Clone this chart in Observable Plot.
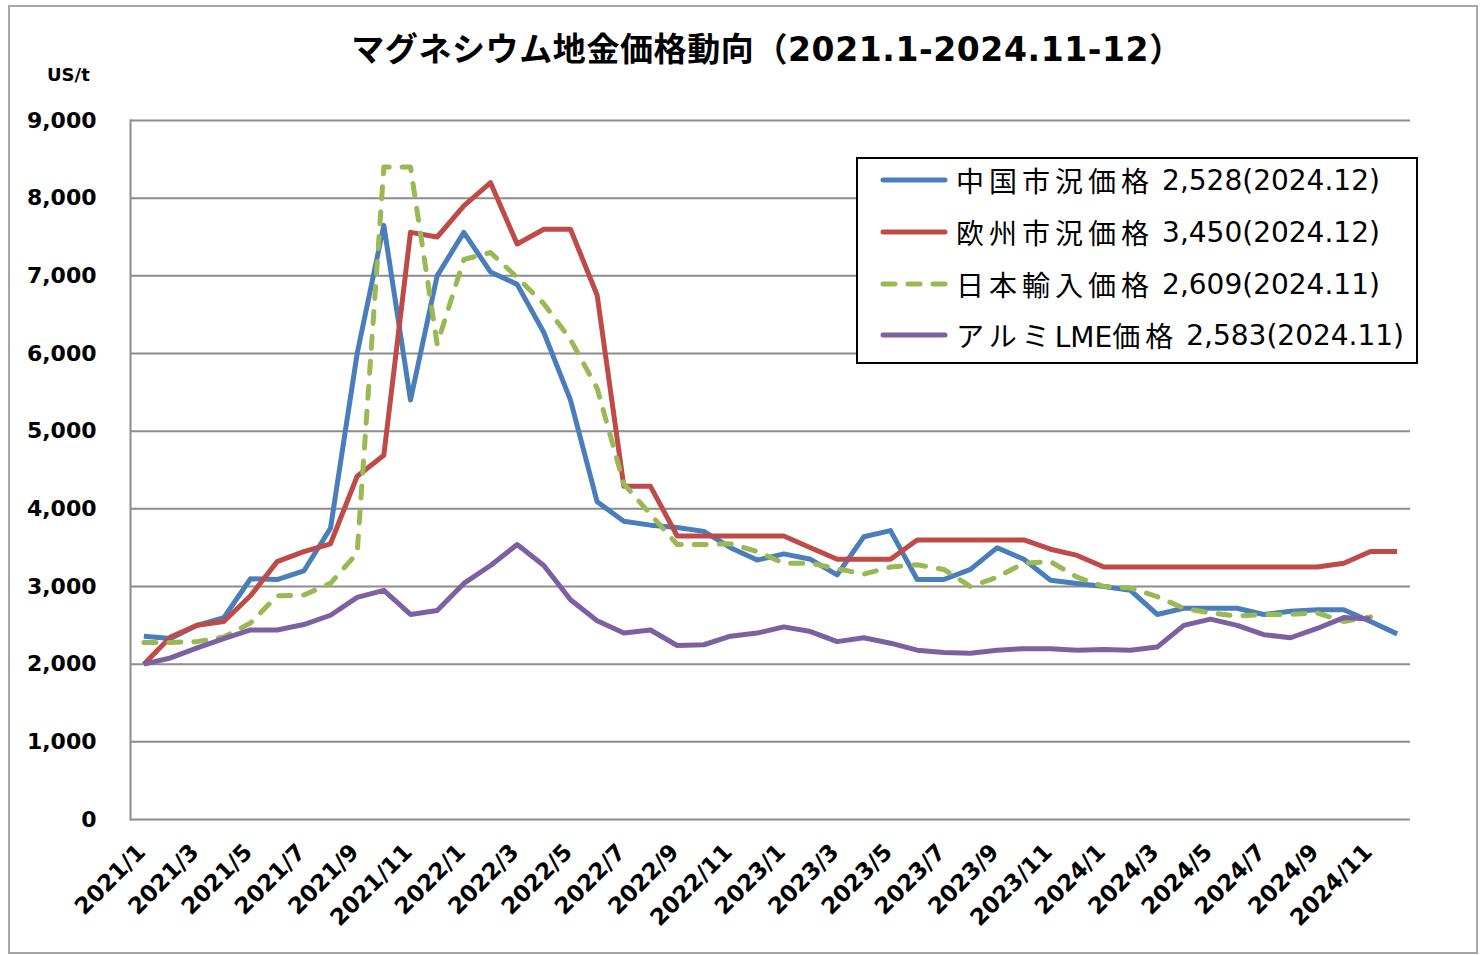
<!DOCTYPE html>
<html>
<head>
<meta charset="utf-8">
<script src="https://cdn.jsdelivr.net/npm/d3@7"></script>
<script src="https://cdn.jsdelivr.net/npm/@observablehq/plot@0.6"></script>
<style>
  html, body { margin: 0; padding: 0; background: #fff; }
  #wrap { position: relative; width: 1482px; height: 955px; overflow: hidden; font-family: "DejaVu Sans", "Noto Sans CJK JP", sans-serif; }
  #border { position: absolute; left: 8px; top: 5px; width: 1466px; height: 945px; border: 2px solid #a6a6a6; }
  #title { position: absolute; left: 767px; top: 23px; transform: translateX(-50%); font-size: 33px; font-weight: 700; letter-spacing: 0.6px; white-space: nowrap; color: #000; }
  #unit { position: absolute; left: 47px; top: 64px; font-size: 18px; font-weight: 700; color: #000; }
  #chart { position: absolute; left: 0; top: 90px; }
  #legend { position: absolute; left: 856px; top: 157px; width: 562px; height: 207px; border: 2px solid #000; box-sizing: border-box; background: #fff; }
  .row { position: absolute; left: 0; height: 40px; display: flex; align-items: center; }
  .row svg { margin-left: 22px; }
  .row span { font-size: 28px; color: #000; white-space: nowrap; }
  .row span.name { margin-left: 8px; }
  .row span.num { margin-left: 13px; }
  .c { letter-spacing: 5px; font-family: "Noto Sans CJK JP", sans-serif; }
  .c:last-child { letter-spacing: 0; }
</style>
</head>
<body>
<div id="wrap">
  <div id="border"></div>
  <div id="title">マグネシウム地金価格動向（2021.1-2024.11-12）</div>
  <div id="unit">US/t</div>
  <div id="chart"></div>
  <div id="legend"></div>
</div>
<script>
// ---- data ----
const months = [];
for (const yr of [2021, 2022, 2023, 2024]) for (let m = 1; m <= 12; m++) months.push(`${yr}/${m}`);

const china = [2360, 2330, 2500, 2600, 3100, 3090, 3200, 3750, 6000, 7650, 5400, 7000,
               7560, 7050, 6890, 6270, 5400, 4090, 3840, 3790, 3760, 3710, 3500, 3340,
               3420, 3350, 3150, 3640, 3720, 3090, 3090, 3220, 3500, 3350, 3080, 3040,
               3000, 2950, 2640, 2720, 2720, 2720, 2640, 2680, 2700, 2700, 2550, 2390];
const europe = [2000, 2350, 2500, 2550, 2880, 3320, 3450, 3550, 4420, 4690, 7560, 7500,
                7900, 8200, 7410, 7600, 7600, 6750, 4290, 4290, 3650, 3650, 3650, 3650,
                3650, 3500, 3350, 3350, 3350, 3600, 3600, 3600, 3600, 3600, 3480, 3400,
                3250, 3250, 3250, 3250, 3250, 3250, 3250, 3250, 3250, 3300, 3450, 3450];
const japan = [2280, 2280, 2290, 2350, 2530, 2880, 2890, 3040, 3430, 8400, 8400, 6120,
               7210, 7300, 6980, 6640, 6180, 5550, 4320, 3930, 3540, 3540, 3550, 3450,
               3300, 3300, 3230, 3160, 3250, 3280, 3220, 3000, 3120, 3300, 3320, 3120,
               3000, 2980, 2870, 2720, 2660, 2620, 2640, 2640, 2660, 2550, 2609];
const alum = [2000, 2080, 2210, 2330, 2440, 2440, 2510, 2630, 2860, 2950, 2640, 2690,
              3040, 3270, 3540, 3270, 2830, 2560, 2400, 2440, 2240, 2250, 2360, 2400,
              2480, 2420, 2290, 2340, 2270, 2180, 2150, 2140, 2180, 2200, 2200, 2180,
              2190, 2180, 2220, 2500, 2580, 2500, 2380, 2340, 2460, 2600, 2583];

const seriesNames = ["中国市況価格", "欧州市況価格", "日本輸入価格", "アルミLME価格"];
const seriesLatest = ["2,528(2024.12)", "3,450(2024.12)", "2,609(2024.11)", "2,583(2024.11)"];
const seriesColors = ["#4a7ebb", "#be4b48", "#98b954", "#7d60a0"];
const seriesDash = [null, null, "12,13", null];
const yTicks = [0, 1000, 2000, 3000, 4000, 5000, 6000, 7000, 8000, 9000];
const xTickLabels = months.filter((_, i) => i % 2 === 0);

// ---- build ----
const allSeries = [china, europe, japan, alum];
const rows = allSeries.map((arr, s) => arr.map((v, i) => ({month: months[i], value: v, series: seriesNames[s]})));

const font = '"DejaVu Sans", "Noto Sans CJK JP", sans-serif';

const marks = [
  Plot.gridY(yTicks, {stroke: "#8c8c8c", strokeOpacity: 1, strokeWidth: 2}),
  Plot.frame({anchor: "left", stroke: "#8c8c8c", strokeWidth: 2}),
  Plot.axisY(yTicks, {tickSize: 0, tickPadding: 34, fontSize: 22, fontWeight: 700, tickFormat: d3.format(","), label: null, fill: "#000"}),
  Plot.axisX({ticks: [], label: null, tickSize: 0}),
  Plot.text(xTickLabels, {x: d => d, frameAnchor: "bottom", rotate: -45, textAnchor: "end", dy: 34, dx: 3, fontSize: 23, fontWeight: 700, fill: "#000"})
];
rows.forEach((data, s) => {
  marks.push(Plot.line(data, {
    x: "month", y: "value", stroke: seriesColors[s], strokeWidth: 5,
    strokeDasharray: seriesDash[s] || undefined, strokeLinecap: seriesDash[s] ? "round" : "butt", strokeLinejoin: "round"
  }));
});

const chart = Plot.plot({
  width: 1482,
  height: 862,
  marginLeft: 130,
  marginRight: 72,
  marginTop: 30,
  marginBottom: 133,
  style: {fontFamily: font, background: "transparent", overflow: "visible"},
  x: {type: "point", domain: months, padding: 0.5},
  y: {domain: [0, 9000]},
  marks
});
document.getElementById("chart").appendChild(chart);

// legend
const legend = document.getElementById("legend");
const rowTops = [1, 53, 105, 156];
const isCJK = ch => /[\u3000-\u9fff\uff00-\uffef]/.test(ch);
seriesNames.forEach((name, s) => {
  const r = document.createElement("div");
  r.className = "row";
  r.style.top = rowTops[s] + "px";
  const dash = seriesDash[s] ? `stroke-dasharray="12,13" stroke-linecap="round"` : `stroke-linecap="round"`;
  const nameHtml = [...name].map(ch => isCJK(ch) ? `<span class="c">${ch}</span>` : ch).join("");
  r.innerHTML = `<svg width="68" height="10"><line x1="3" y1="5" x2="65" y2="5" stroke="${seriesColors[s]}" stroke-width="5" ${dash}/></svg><span class="name">${nameHtml}</span><span class="num">${seriesLatest[s]}</span>`;
  legend.appendChild(r);
});
</script>
</body>
</html>
